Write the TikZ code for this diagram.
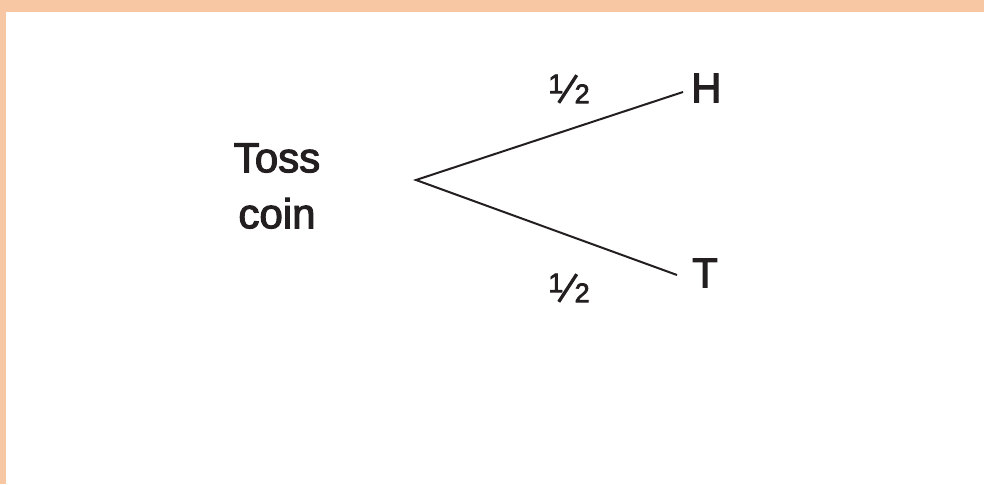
\documentclass[tikz,border=0pt]{standalone}
\usepackage{fontspec}
\usepackage{graphicx}
\setmainfont{Liberation Sans}
\newfontfamily\medfont{Liberation Sans}[FakeBold=2.6]
\definecolor{peach}{HTML}{F7C6A3}
\definecolor{ink}{HTML}{231F20}
\newcommand{\myhalf}{{\fontsize{27}{27}\selectfont\raisebox{10pt}{1}\hspace{-6pt}\raisebox{-0.5pt}{\rotatebox{57}{\rule{33pt}{3.3pt}}}\hspace{-3.5pt}2}}
\begin{document}
\begin{tikzpicture}[x=1pt,y=-1pt,
  lbl/.style={inner sep=0pt, text=ink, font=\medfont\fontsize{42}{56}\selectfont},
  frac/.style={inner sep=0pt, text=ink, font=\medfont},
  branch/.style={draw=ink, line width=2pt}]
\useasboundingbox (0,0) rectangle (984,484);
\fill[peach] (0,0) rectangle (984,12);
\fill[peach] (0,0) rectangle (6,484);
\node[lbl, align=center] (toss) at (277,186) {Toss\\coin};
\coordinate (v) at (416,180);
\node[lbl, anchor=west] (H) at (691,88) {H};
\node[lbl, anchor=west] (T) at (692,273) {T};
\coordinate (he) at (683,92);
\coordinate (te) at (677,275);
\draw[branch] (he) -- (v) -- (te);
\node[frac] (ph) at (569,89) {\myhalf};
\node[frac] (pt) at (569,288) {\myhalf};
\end{tikzpicture}
\end{document}
